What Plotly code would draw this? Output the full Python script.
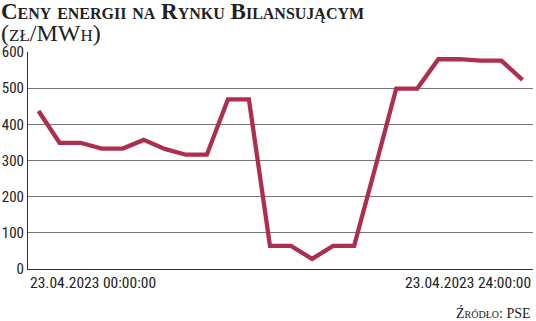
import plotly.graph_objects as go

hours = list(range(24))
prices = [437, 349, 349, 333, 333, 357, 332, 316, 316, 469, 469, 64,
          64, 28, 64, 64, 280, 499, 499, 580, 580, 576, 576, 523]
y_ticks = [0, 100, 200, 300, 400, 500, 600]
x_start_label = "23.04.2023 00:00:00"
x_end_label = "23.04.2023 24:00:00"
title = "Ceny energii na Rynku Bilansującym"
unit = "(zł/MWh)"
source = "Źródło: PSE"

tickfont = dict(family="Roboto Condensed, sans-serif", size=15.5, color="#222")
ytickfont = dict(family="Roboto Condensed, sans-serif", size=15, color="#222")
serif = "Liberation Serif, serif"

fig = go.Figure()
fig.add_trace(go.Scatter(x=hours, y=prices, mode="lines",
                         line=dict(color="#AE2E4E", width=4.3), hoverinfo="skip"))

fig.update_layout(
    width=536, height=321,
    margin=dict(l=28, r=3, t=52, b=52),
    paper_bgcolor="white", plot_bgcolor="white",
    showlegend=False,
    xaxis=dict(range=[-0.5, 23.5], showgrid=False, zeroline=False,
               showticklabels=False, showline=True, linecolor="#333", linewidth=1,
               fixedrange=True, automargin=False),
    yaxis=dict(range=[0, 600], tickvals=y_ticks, showgrid=True, gridcolor="#777",
               gridwidth=1, zeroline=False, showline=True, linecolor="#333",
               linewidth=1, ticks="", tickfont=ytickfont, ticklabelstandoff=0,
               automargin=False),
    annotations=[
        dict(text="<b>" + title + "</b>", xref="paper", yref="paper", x=-0.057, y=1.0,
             yshift=55, xanchor="left", yanchor="top", showarrow=False,
             font=dict(family=serif, size=23, color="#222", variant="small-caps")),
        dict(text=unit, xref="paper", yref="paper", x=-0.057, y=1.0, yshift=34,
             xanchor="left", yanchor="top", showarrow=False,
             font=dict(family=serif, size=24, color="#222", variant="small-caps")),
        dict(text=x_start_label, xref="paper", yref="paper", x=0.0, y=0, yshift=-3,
             xanchor="left", yanchor="top", showarrow=False, font=tickfont),
        dict(text=x_end_label, xref="paper", yref="paper", x=1.0, y=0, yshift=-3,
             xanchor="right", yanchor="top", showarrow=False, font=tickfont),
        dict(text=source, xref="paper", yref="paper", x=1.0, y=0, yshift=-34,
             xanchor="right", yanchor="top", showarrow=False,
             font=dict(family=serif, size=14, color="#222", variant="small-caps")),
    ],
)

fig.write_html("out.html", config={"displayModeBar": False})
